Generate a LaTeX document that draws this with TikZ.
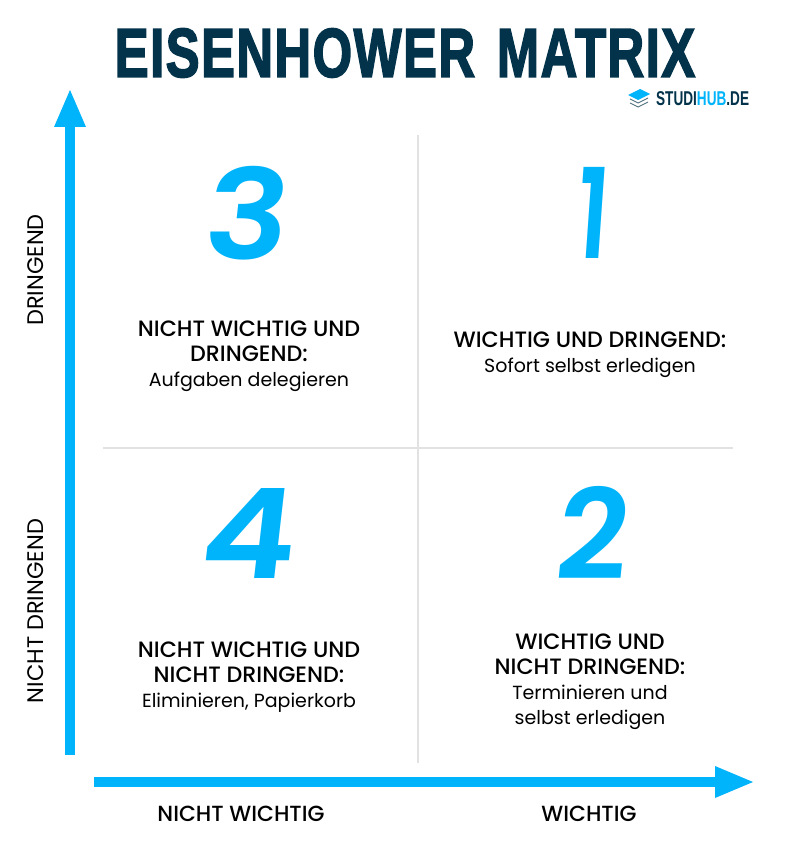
\documentclass[tikz,border=0pt]{standalone}
\usepackage{fontspec}
\setmainfont{Poppins}
\newfontfamily\medfont{Poppins Medium}
\newfontfamily\titlefont{Liberation Sans Bold}[FakeBold=2.8,LetterSpace=3,WordSpace=1.4]
\newfontfamily\logofont{Liberation Sans Bold}
\newfontfamily\digitfont{Poppins SemiBold}[FakeSlant=0.1]
\definecolor{skyb}{HTML}{00B4FB}
\definecolor{navy}{HTML}{03334A}
\definecolor{gridl}{HTML}{E2E2E2}
\usetikzlibrary{calc}
\tikzset{
  x=1pt,y=-1pt,
  gridline/.style={draw=gridl,line width=2pt},
  axisline/.style={draw=skyb,line width=10pt},
  axishead/.style={fill=skyb,draw=none},
  digit/.style={text=skyb,font=\digitfont\fontsize{125}{125}\selectfont,inner sep=0pt},
  quad/.style={align=center,font=\fontsize{19}{25}\selectfont,inner sep=0pt,text=black},
  axlabel/.style={font=\medfont\fontsize{21.9}{22}\selectfont,inner sep=0pt,text=black},
  vlabel/.style={font=\fontsize{22.5}{22}\selectfont,inner sep=0pt,text=black,rotate=90},
}
\newcommand{\hd}[1]{{\medfont\fontsize{22.2}{25}\selectfont #1}}
\begin{document}
\begin{tikzpicture}
\useasboundingbox (0,0) rectangle (800,850);
\fill[white] (0,0) rectangle (800,850);
\coordinate (vt) at (418,135); \coordinate (vb) at (418,763);
\coordinate (hl) at (103,448); \coordinate (hr) at (733,448);
\draw[gridline] (vt) -- (vb);
\draw[gridline] (hl) -- (hr);
\coordinate (ya) at (70,755); \coordinate (yb) at (70,125); \coordinate (yt) at (70,90);
\coordinate (xa) at (94,782); \coordinate (xb) at (717,782); \coordinate (xt) at (753,782);
\draw[axisline] (ya) -- (yb);
\draw[axisline] (xa) -- (xb);
\fill[axishead] (yt) -- ($(yt)+(16,37)$) -- ($(yt)+(-16,37)$) -- cycle;
\fill[axishead] (xt) -- ($(xt)+(-38,-16)$) -- ($(xt)+(-38,16)$) -- cycle;
\node[inner sep=0pt,text=navy,font=\titlefont\fontsize{69}{69}\selectfont,xscale=0.735] (title) at (405,53) {EISENHOWER MATRIX};
% logo
\node[inner sep=0pt,text=navy,font=\logofont\fontsize{20}{20}\selectfont,xscale=0.68,anchor=west] (logo) at (656,99) {STUDI\textcolor{skyb}{HUB}.DE};
\fill[skyb] (628,95) -- (640,89) -- (650,94) -- (638,100) -- cycle;
\draw[navy!70,line width=0.9pt] (630,99) -- (638,103) -- (648,98) (630,103) -- (638,107) -- (648,102);
\node[digit,xscale=1.12] (n3) at (243,213) {3};
\node[digit,xscale=0.7] (n1) at (590,213) {1};
\node[digit,xscale=1.15] (n4) at (245,533) {4};
\node[digit,xscale=1.0] (n2) at (589,533) {2};
\node[quad] (q3) at (249,356) {\hd{NICHT WICHTIG UND}\\\hd{DRINGEND:}\\Aufgaben delegieren};
\node[quad] (q1) at (590,355) {\hd{WICHTIG UND DRINGEND:}\\Sofort selbst erledigen};
\node[quad] (q4) at (249,677) {\hd{NICHT WICHTIG UND}\\\hd{NICHT DRINGEND:}\\Eliminieren, Papierkorb};
\node[quad] (q2) at (590,682) {\hd{WICHTIG UND}\\\hd{NICHT DRINGEND:}\\Terminieren und\\selbst erledigen};
\node[axlabel] (lnw) at (241,814) {NICHT WICHTIG};
\node[axlabel] (lw) at (589,814) {WICHTIG};
\node[vlabel] (ld) at (36,270) {DRINGEND};
\node[vlabel] (lnd) at (36,611) {NICHT DRINGEND};
\end{tikzpicture}
\end{document}
